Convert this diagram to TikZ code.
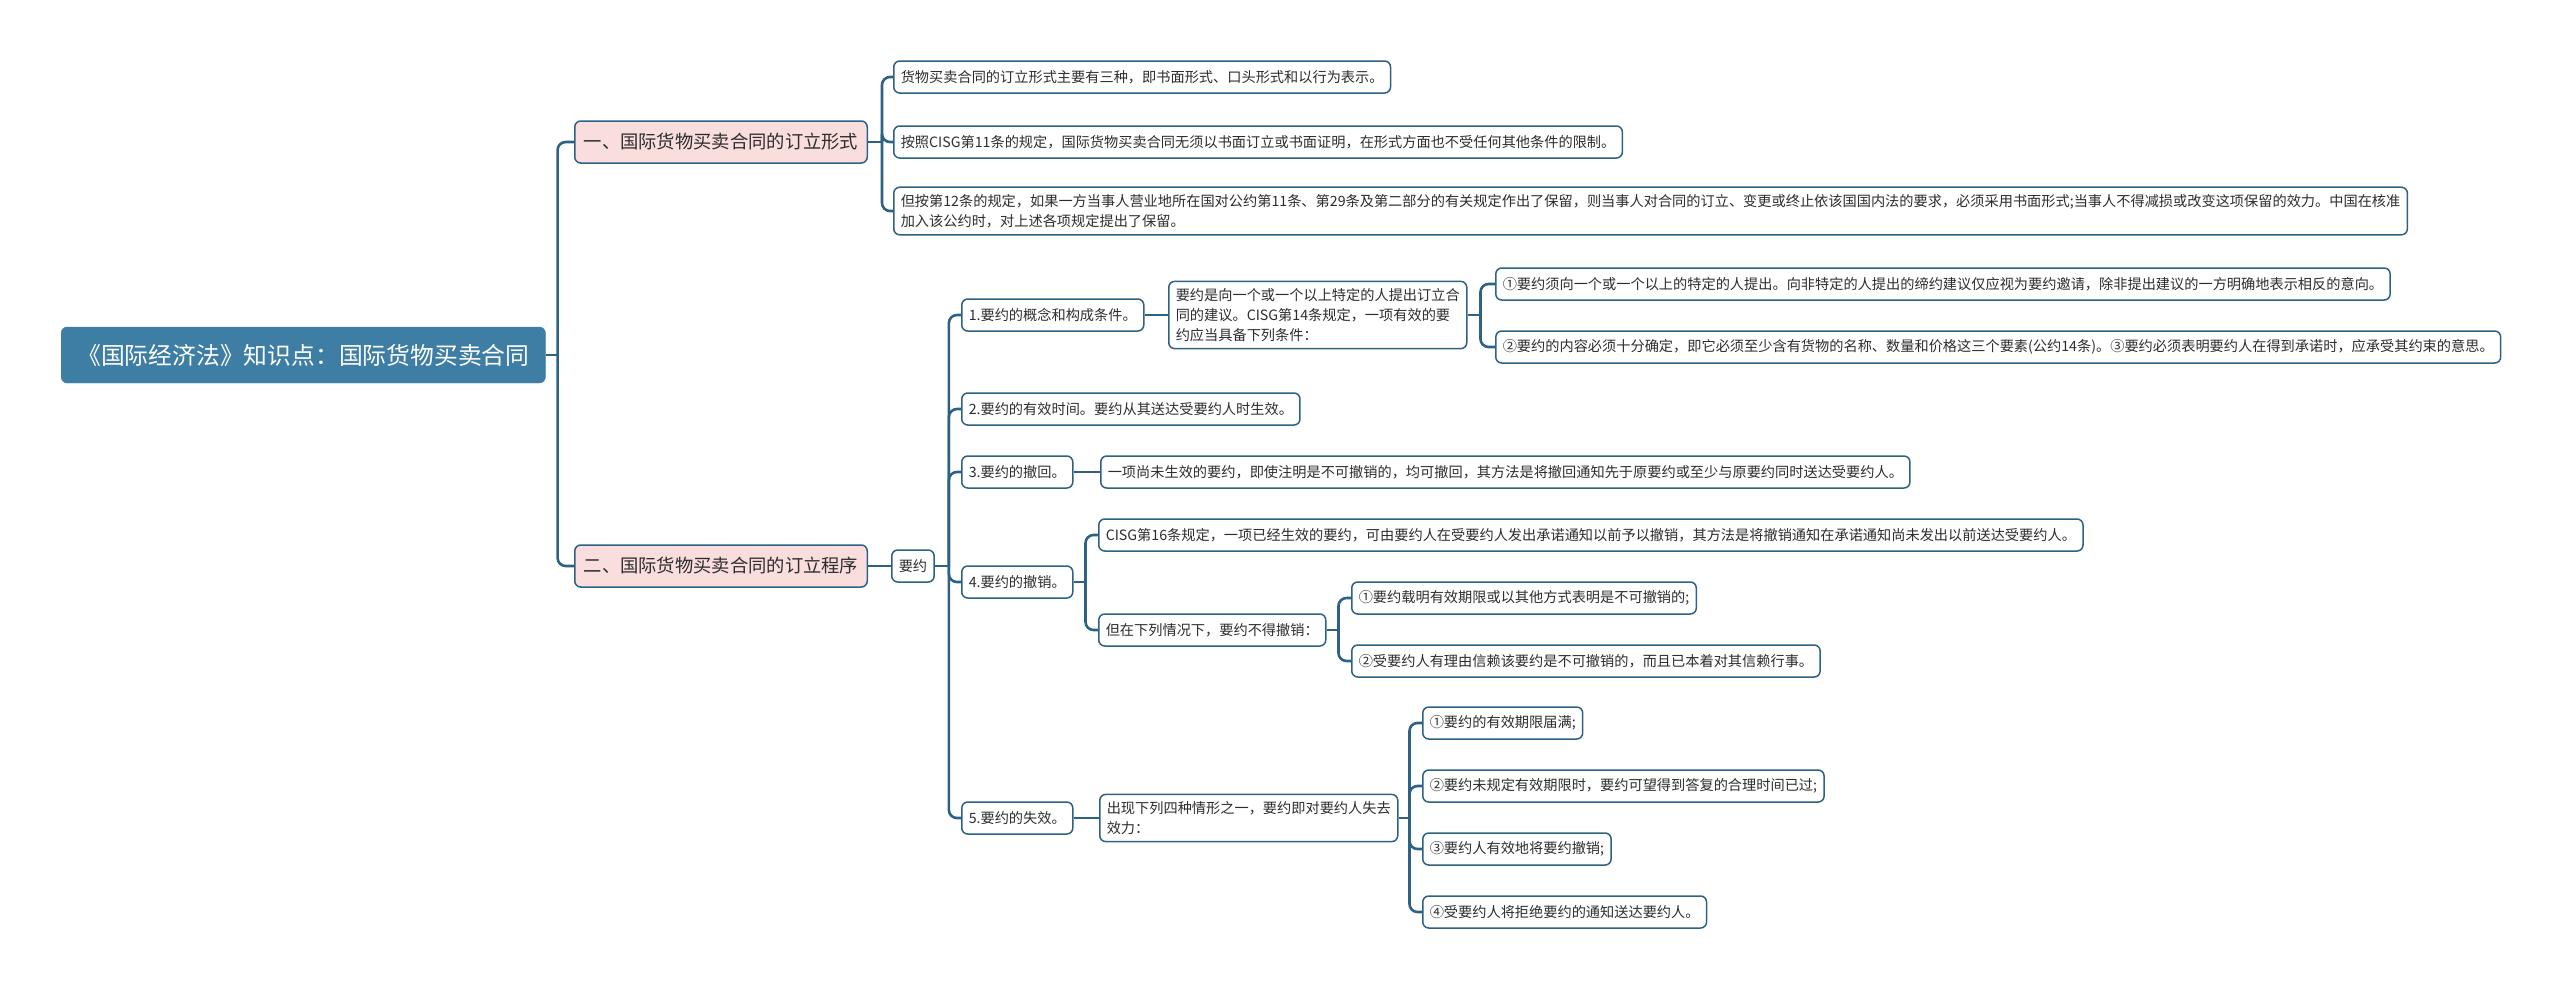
\documentclass[tikz,border=0pt]{standalone}
\usepackage{fontspec}
\setmainfont{Noto Sans CJK SC}
\usetikzlibrary{positioning}
\definecolor{cLine}{RGB}{46,98,132}
\definecolor{cRoot}{RGB}{62,126,164}
\definecolor{cPink}{RGB}{250,221,221}
\definecolor{cText}{RGB}{45,45,45}
\tikzset{
	rootbox/.style ={rectangle, rounded corners=6pt, fill=cRoot, draw=cRoot, text=white, anchor=west, minimum height=56pt, inner xsep=16pt, font=\fontsize{23.8}{28}\selectfont},
	topicbox/.style={rectangle, rounded corners=6pt, fill=cPink, draw=cLine, line width=1.5pt, text=cText, anchor=west, minimum height=42pt, inner xsep=9pt, font=\fontsize{18.3}{22}\selectfont},
	leafbox/.style ={rectangle, rounded corners=6pt, fill=white, draw=cLine, line width=1.5pt, text=cText, anchor=west, minimum height=32pt, inner xsep=7pt, inner ysep=7pt, align=left, font=\fontsize{14.2}{20}\selectfont},
	% connectors of the map
	link/.style    ={draw=cLine, line width=2.6pt, rounded corners=8pt},
}
\begin{document}
\begin{tikzpicture}[x=1pt, y=-1pt]
	\useasboundingbox (0,0) rectangle (2560,989);
	\node[rootbox] (root) at (61,355) {《国际经济法》知识点：国际货物买卖合同};
	\node[topicbox] (b1) at (574,142) {一、国际货物买卖合同的订立形式};
	\node[topicbox] (b2) at (574,566) {二、国际货物买卖合同的订立程序};
	% form of contract
	\node[leafbox] (f1) at (893,77) {货物买卖合同的订立形式主要有三种，即书面形式、口头形式和以行为表示。};
	\node[leafbox] (f2) at (893,142) {按照CISG第11条的规定，国际货物买卖合同无须以书面订立或书面证明，在形式方面也不受任何其他条件的限制。};
	\node[leafbox] (f3) at (893,211) {但按第12条的规定，如果一方当事人营业地所在国对公约第11条、第29条及第二部分的有关规定作出了保留，则当事人对合同的订立、变更或终止依该国国内法的要求，必须采用书面形式;当事人不得减损或改变这项保留的效力。中国在核准\\加入该公约时，对上述各项规定提出了保留。};
	% offer
	\node[leafbox] (yy) at (891,566) {要约};
	\node[leafbox] (p1) at (961,315) {1.要约的概念和构成条件。};
	\node[leafbox] (p1t) at (1168,315) {要约是向一个或一个以上特定的人提出订立合\\同的建议。CISG第14条规定，一项有效的要\\约应当具备下列条件：};
	\node[leafbox] (p1a) at (1495,284) {①要约须向一个或一个以上的特定的人提出。向非特定的人提出的缔约建议仅应视为要约邀请，除非提出建议的一方明确地表示相反的意向。};
	\node[leafbox] (p1b) at (1495,347) {②要约的内容必须十分确定，即它必须至少含有货物的名称、数量和价格这三个要素(公约14条)。③要约必须表明要约人在得到承诺时，应承受其约束的意思。};
	\node[leafbox] (p2) at (961,409) {2.要约的有效时间。要约从其送达受要约人时生效。};
	\node[leafbox] (p3) at (961,472) {3.要约的撤回。};
	\node[leafbox] (p3t) at (1100,472) {一项尚未生效的要约，即使注明是不可撤销的，均可撤回，其方法是将撤回通知先于原要约或至少与原要约同时送达受要约人。};
	\node[leafbox] (p4) at (961,582) {4.要约的撤销。};
	\node[leafbox] (p4a) at (1098,535) {CISG第16条规定，一项已经生效的要约，可由要约人在受要约人发出承诺通知以前予以撤销，其方法是将撤销通知在承诺通知尚未发出以前送达受要约人。};
	\node[leafbox] (p4b) at (1098,630) {但在下列情况下，要约不得撤销：};
	\node[leafbox] (p4b1) at (1351,598) {①要约载明有效期限或以其他方式表明是不可撤销的;};
	\node[leafbox] (p4b2) at (1351,661) {②受要约人有理由信赖该要约是不可撤销的，而且已本着对其信赖行事。};
	\node[leafbox] (p5) at (961,818) {5.要约的失效。};
	\node[leafbox] (p5t) at (1099,818) {出现下列四种情形之一，要约即对要约人失去\\效力：};
	\node[leafbox] (p5a) at (1422,723) {①要约的有效期限届满;};
	\node[leafbox] (p5b) at (1422,786) {②要约未规定有效期限时，要约可望得到答复的合理时间已过;};
	\node[leafbox] (p5c) at (1422,849) {③要约人有效地将要约撤销;};
	\node[leafbox] (p5d) at (1422,912) {④受要约人将拒绝要约的通知送达要约人。};
	% links
	\draw[link] (root.east) -- ++(12,0) coordinate (jr);
	\foreach \c in {b1,b2} \draw[link] (jr) |- (\c.west);
	\draw[link] (b1.east) -- ++(14,0) coordinate (j1);
	\foreach \c in {f1,f2,f3} \draw[link] (j1) |- (\c.west);
	\draw[link] (b2.east) -- (yy.west);
	\draw[link] (yy.east) -- ++(14,0) coordinate (jy);
	\foreach \c in {p1,p2,p3,p4,p5} \draw[link] (jy) |- (\c.west);
	\draw[link] (p1.east) -- (p1t.west);
	\draw[link] (p1t.east) -- ++(13,0) coordinate (jp1);
	\foreach \c in {p1a,p1b} \draw[link] (jp1) |- (\c.west);
	\draw[link] (p3.east) -- (p3t.west);
	\draw[link] (p4.east) -- ++(12,0) coordinate (jp4);
	\foreach \c in {p4a,p4b} \draw[link] (jp4) |- (\c.west);
	\draw[link] (p4b.east) -- ++(12,0) coordinate (jp4b);
	\foreach \c in {p4b1,p4b2} \draw[link] (jp4b) |- (\c.west);
	\draw[link] (p5.east) -- (p5t.west);
	\draw[link] (p5t.east) -- ++(11,0) coordinate (jp5);
	\foreach \c in {p5a,p5b,p5c,p5d} \draw[link] (jp5) |- (\c.west);
\end{tikzpicture}
\end{document}
